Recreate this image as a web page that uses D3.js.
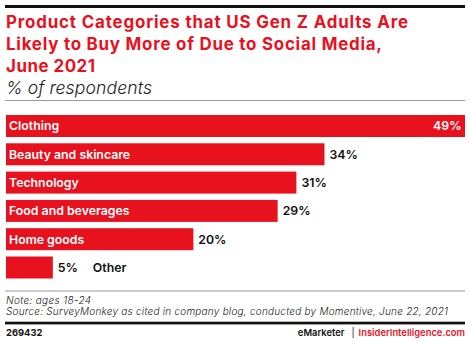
<!DOCTYPE html>
<html>
<head>
<meta charset="utf-8">
<script src="https://cdn.jsdelivr.net/npm/d3@7"></script>
<style>
  html, body { margin: 0; padding: 0; background: #fff; }
  svg { display: block; }
  text { font-family: Inter, "Open Sans", sans-serif; }
</style>
</head>
<body>
<svg id="chart" width="470" height="342"></svg>
<script>
// Product categories and share of respondents (%)
const categories = ["Clothing", "Beauty and skincare", "Technology", "Food and beverages", "Home goods", "Other"];
const values = [49, 34, 31, 29, 20, 5];

const titleLines = [
  "Product Categories that US Gen Z Adults Are",
  "Likely to Buy More of Due to Social Media,",
  "June 2021"
];
const subtitle = "% of respondents";
const noteLines = [
  "Note: ages 18-24",
  "Source: SurveyMonkey as cited in company blog, conducted by Momentive, June 22, 2021"
];
const chartId = "269432";

const RED = "#e8111e";
const left = 6, right = 465;

// set widths of the headline/footer lines
const titleWidths = [402, 376, 89];
const noteWidths = [85, 442];

const svg = d3.select("#chart");

// top rule
svg.append("rect").attr("x", 5).attr("y", 5).attr("width", right - 5).attr("height", 3).attr("fill", "#111");

// title
svg.append("g").selectAll("text").data(titleLines).join("text")
  .attr("x", left).attr("y", (d, i) => 28.3 + i * 21.7)
  .attr("fill", RED).attr("font-weight", 700).attr("font-size", 16.9)
  .attr("textLength", (d, i) => titleWidths[i]).attr("lengthAdjust", "spacing")
  .text(d => d);

svg.append("text").attr("x", left).attr("y", 93.5)
  .attr("font-style", "italic").attr("font-weight", 300).attr("font-size", 17.6)
  .attr("textLength", 146).attr("lengthAdjust", "spacing")
  .attr("fill", "#222").text(subtitle);

// rule under subtitle
svg.append("rect").attr("x", 5).attr("y", 100).attr("width", right - 5).attr("height", 1).attr("fill", "#999");

// scales
const x = d3.scaleLinear().domain([0, d3.max(values)]).range([left, right]);
const y = d3.scaleBand().domain(categories).range([115, 278.5]).paddingInner(0.223).paddingOuter(0);

const rows = svg.append("g").selectAll("g").data(categories).join("g");

rows.append("rect")
  .attr("x", x(0)).attr("y", d => y(d))
  .attr("width", (d, i) => x(values[i]) - x(0))
  .attr("height", y.bandwidth())
  .attr("fill", RED);

const isOther = d => d === "Other";
const labelY = d => y(d) + y.bandwidth() / 2 + 4.4;

// category label (inside the bar, or after the value for the short one)
rows.append("text")
  .attr("x", (d, i) => isOther(d) ? x(values[i]) + 40 : x(0) + 3)
  .attr("y", labelY)
  .attr("font-size", 12.3).attr("font-weight", 600)
  .attr("fill", d => isOther(d) ? "#111" : "#fff")
  .text(d => d);

// value label
rows.append("text")
  .attr("x", (d, i) => i === 0 ? x(values[i]) - 3.5 : x(values[i]) + 5)
  .attr("text-anchor", (d, i) => i === 0 ? "end" : "start")
  .attr("y", labelY)
  .attr("font-size", 12.3).attr("font-weight", 600)
  .attr("fill", (d, i) => i === 0 ? "#fff" : "#111")
  .text((d, i) => values[i] + "%");

// footer
svg.append("rect").attr("x", 5).attr("y", 290.5).attr("width", right - 5).attr("height", 1).attr("fill", "#999");
svg.append("g").selectAll("text").data(noteLines).join("text")
  .attr("x", left).attr("y", (d, i) => 304.3 + i * 10.8)
  .attr("font-style", "italic").attr("font-size", 10).attr("font-weight", 300)
  .attr("textLength", (d, i) => noteWidths[i]).attr("lengthAdjust", "spacing")
  .attr("fill", "#222").text(d => d);
svg.append("rect").attr("x", 5).attr("y", 321.7).attr("width", right - 5).attr("height", 2.7).attr("fill", "#111");

svg.append("text").attr("x", left).attr("y", 336)
  .attr("font-size", 9.4).attr("font-weight", 700).attr("fill", "#111").text(chartId);

// credit line, laid out right to left
const credit = svg.append("g").attr("font-size", 9.4).attr("font-weight", 600);
const site = credit.append("text").attr("x", right).attr("y", 336).attr("text-anchor", "end")
  .attr("fill", RED).text("InsiderIntelligence.com");
const siteX = right - site.node().getComputedTextLength();
const bar = credit.append("text").attr("x", siteX - 4).attr("y", 336).attr("text-anchor", "end")
  .attr("fill", "#111").attr("font-weight", 400).text("|");
const barX = siteX - 4 - bar.node().getComputedTextLength();
credit.append("text").attr("x", barX - 7).attr("y", 336).attr("text-anchor", "end")
  .attr("fill", "#111").text("eMarketer");
</script>
</body>
</html>
